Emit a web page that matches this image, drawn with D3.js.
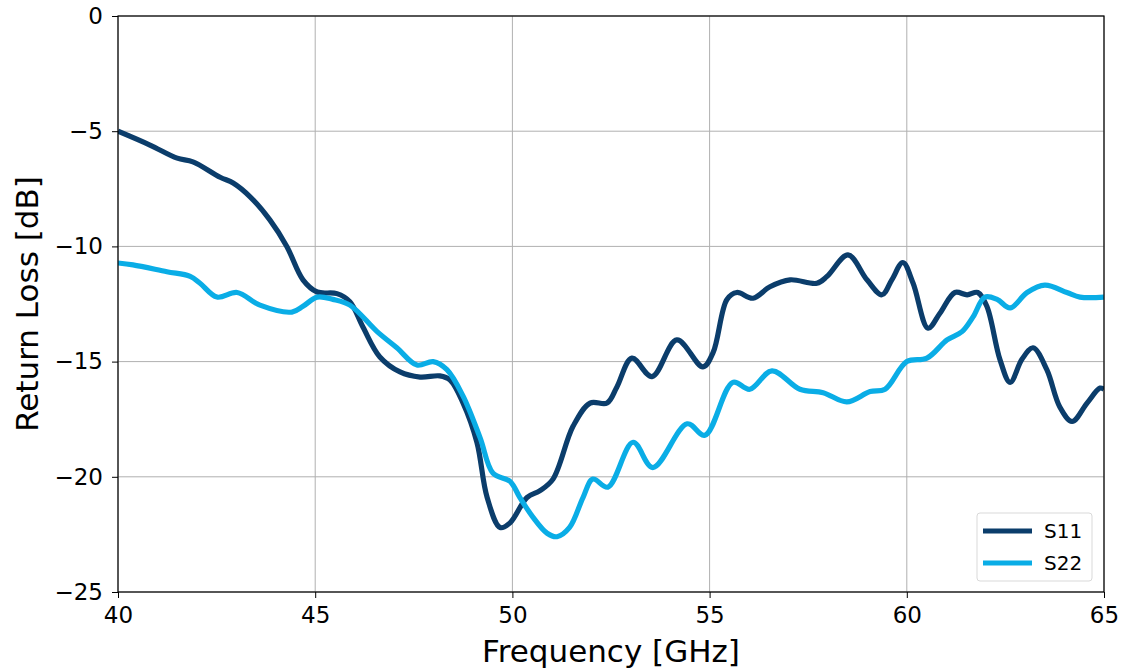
<!DOCTYPE html>
<html>
<head>
<meta charset="utf-8">
<script src="https://cdn.jsdelivr.net/npm/d3@7.9.0/dist/d3.min.js"></script>
<style>
  body { margin: 0; background: #fff; }
  text { font-family: "DejaVu Sans", sans-serif; }
</style>
</head>
<body>
<svg id="chart" width="1123" height="671"></svg>
<script>
// S11: [frequency GHz, dB]
const s11 = [
  [40.0, -5.0], [40.81, -5.6], [41.5, -6.17], [41.9, -6.33], [42.59, -7.0], [42.92, -7.25],
  [43.35, -7.85], [43.85, -8.85], [44.28, -10.0], [44.69, -11.45], [45.05, -11.98],
  [45.55, -12.05], [45.88, -12.4], [46.21, -13.5], [46.64, -14.8], [47.15, -15.45],
  [47.66, -15.67], [48.16, -15.62], [48.42, -15.8], [48.75, -16.8], [49.1, -18.5],
  [49.36, -20.9], [49.69, -22.2], [49.94, -22.0], [50.37, -20.9], [50.7, -20.6],
  [51.03, -20.1], [51.54, -17.8], [51.97, -16.8], [52.4, -16.8], [52.65, -16.1],
  [53.03, -14.85], [53.54, -15.65], [54.17, -14.06], [54.83, -15.23], [55.09, -14.6],
  [55.44, -12.3], [55.69, -12.0], [56.1, -12.25], [56.53, -11.75], [57.04, -11.45],
  [57.72, -11.6], [57.98, -11.3], [58.51, -10.37], [58.99, -11.45], [59.37, -12.1],
  [59.62, -11.45], [59.9, -10.7], [60.16, -11.6], [60.54, -13.55], [60.84, -12.9],
  [61.22, -12.0], [61.53, -12.1], [61.8, -12.0], [62.03, -12.6], [62.36, -14.9],
  [62.62, -15.9], [62.92, -14.9], [63.2, -14.4], [63.55, -15.35], [63.88, -16.97],
  [64.19, -17.6], [64.57, -16.8], [64.9, -16.15], [65.0, -16.2]
];

// S22
const s22 = [
  [40.0, -10.72], [40.38, -10.8], [41.24, -11.1], [41.83, -11.3], [42.08, -11.6],
  [42.51, -12.2], [43.02, -12.0], [43.6, -12.55], [44.41, -12.85], [44.69, -12.6],
  [45.05, -12.2], [45.45, -12.3], [45.88, -12.55], [46.57, -13.7], [47.07, -14.4],
  [47.58, -15.15], [47.99, -15.0], [48.34, -15.35], [48.75, -16.5], [49.18, -18.3],
  [49.51, -19.85], [49.94, -20.2], [50.19, -20.9], [50.52, -21.75], [50.88, -22.45],
  [51.13, -22.6], [51.45, -22.2], [51.79, -20.9], [52.04, -20.1], [52.42, -20.45],
  [53.06, -18.5], [53.56, -19.6], [54.43, -17.7], [54.88, -18.2], [55.59, -15.9],
  [56.02, -16.2], [56.58, -15.4], [57.29, -16.2], [57.88, -16.35], [58.48, -16.75],
  [59.07, -16.3], [59.45, -16.2], [60.0, -15.0], [60.51, -14.85], [61.02, -14.06],
  [61.4, -13.7], [61.68, -13.06], [61.98, -12.2], [62.29, -12.3], [62.62, -12.67],
  [63.05, -12.0], [63.5, -11.68], [64.06, -12.0], [64.39, -12.2], [65.0, -12.2]
];

const xTicks = [40, 45, 50, 55, 60, 65];
const yTicks = [0, -5, -10, -15, -20, -25];
const seriesNames = ['S11', 'S22'];
const seriesColors = ['#0b3d6b', '#0aade6'];

const margin = { top: 16, right: 19, bottom: 79, left: 118 };
const width = 1123 - margin.left - margin.right;
const height = 671 - margin.top - margin.bottom;

const svg = d3.select('#chart');
const g = svg.append('g').attr('transform', `translate(${margin.left},${margin.top})`);

const x = d3.scaleLinear().domain([40, 65]).range([0, width]);
const y = d3.scaleLinear().domain([-25, 0]).range([height, 0]);

// grid
g.append('g')
  .selectAll('line')
  .data(xTicks)
  .join('line')
  .attr('x1', d => x(d)).attr('x2', d => x(d))
  .attr('y1', 0).attr('y2', height)
  .attr('stroke', '#b0b0b0').attr('stroke-width', 1);
g.append('g')
  .selectAll('line')
  .data(yTicks)
  .join('line')
  .attr('x1', 0).attr('x2', width)
  .attr('y1', d => y(d)).attr('y2', d => y(d))
  .attr('stroke', '#b0b0b0').attr('stroke-width', 1);

// lines
const line = d3.line()
  .x(d => x(d[0]))
  .y(d => y(d[1]))
  .curve(d3.curveCatmullRom.alpha(0.5));

svg.append('clipPath').attr('id', 'clip')
  .append('rect').attr('width', width).attr('height', height);

[s11, s22].forEach((data, i) => {
  g.append('path')
    .datum(data)
    .attr('clip-path', 'url(#clip)')
    .attr('fill', 'none')
    .attr('stroke', seriesColors[i])
    .attr('stroke-width', 5.2)
    .attr('stroke-linejoin', 'round')
    .attr('d', line);
});

// axes
const fmt = d => d < 0 ? '\u2212' + Math.abs(d) : String(d);

const xAxis = g.append('g')
  .attr('transform', `translate(0,${height})`)
  .call(d3.axisBottom(x).tickValues(xTicks).tickSize(6).tickPadding(9).tickFormat(fmt));
const yAxis = g.append('g')
  .call(d3.axisLeft(y).tickValues(yTicks).tickSize(6).tickPadding(9).tickFormat(fmt));

[xAxis, yAxis].forEach(a => {
  a.select('.domain').remove();
  a.selectAll('.tick line').attr('stroke', '#000').attr('stroke-width', 1);
  a.selectAll('.tick text').attr('fill', '#000').style('font-size', '23px');
});

// frame
g.append('rect')
  .attr('width', width).attr('height', height)
  .attr('fill', 'none').attr('stroke', '#000').attr('stroke-width', 1.2);

// axis titles
svg.append('text')
  .attr('x', margin.left + width / 2)
  .attr('y', 662)
  .attr('text-anchor', 'middle')
  .style('font-size', '31px')
  .text('Frequency [GHz]');

svg.append('text')
  .attr('transform', `translate(38,${margin.top + height / 2}) rotate(-90)`)
  .attr('text-anchor', 'middle')
  .style('font-size', '31px')
  .text('Return Loss [dB]');

// legend
const legend = g.append('g').attr('transform', `translate(${width - 127},${height - 79})`);
legend.append('rect')
  .attr('width', 115).attr('height', 68)
  .attr('rx', 3)
  .attr('fill', '#fff').attr('fill-opacity', 0.8)
  .attr('stroke', '#d9d9d9');
seriesNames.forEach((name, i) => {
  const yy = 18 + i * 32;
  legend.append('line')
    .attr('x1', 6).attr('x2', 55)
    .attr('y1', yy).attr('y2', yy)
    .attr('stroke', seriesColors[i]).attr('stroke-width', 5.2);
  legend.append('text')
    .attr('x', 67).attr('y', yy)
    .attr('dy', '0.35em')
    .style('font-size', '20px')
    .text(name);
});
</script>
</body>
</html>
